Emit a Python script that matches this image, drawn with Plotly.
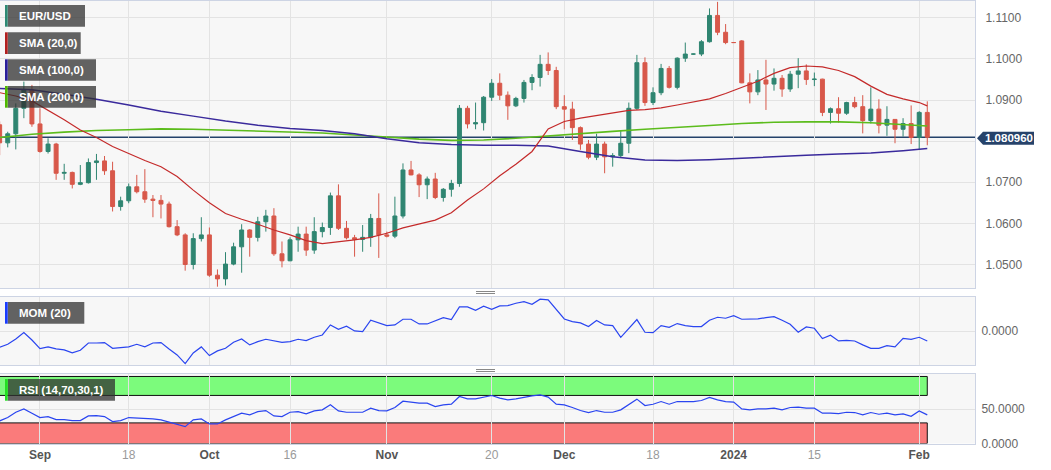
import pandas as pd
import plotly.graph_objects as go

W, H = 1051, 470

# trading days (weekdays), candles centred at noon so weekend breaks don't cut them
days = pd.bdate_range("2023-08-25", "2024-02-02") + pd.Timedelta(hours=12)

opens = [1.0840, 1.0796, 1.0818, 1.0880, 1.0925, 1.0842, 1.0775, 1.0793, 1.0722, 1.0724,
         1.0695, 1.0699, 1.0748, 1.0752, 1.0728, 1.0641, 1.0655, 1.0689, 1.0677, 1.0659,
         1.0656, 1.0647, 1.0592, 1.0572, 1.0500, 1.0563, 1.0572, 1.0474, 1.0465, 1.0501,
         1.0543, 1.0584, 1.0566, 1.0604, 1.0618, 1.0526, 1.0509, 1.0560, 1.0574, 1.0535,
         1.0580, 1.0590, 1.0667, 1.0588, 1.0565, 1.0561, 1.0566, 1.0612, 1.0572, 1.0569,
         1.0618, 1.0730, 1.0718, 1.0694, 1.0708, 1.0663, 1.0683, 1.0697, 1.0880, 1.0842,
         1.0845, 1.0907, 1.0941, 1.0912, 1.0886, 1.0904, 1.0943, 1.0955, 1.0987, 1.0972,
         1.0884, 1.0878, 1.0833, 1.0793, 1.0761, 1.0793, 1.0762, 1.0765, 1.0795, 1.0880,
         1.0991, 1.0894, 1.0918, 1.0977, 1.0931, 1.1002, 1.1012, 1.1012, 1.1042, 1.1106,
         1.1065, 1.1040, 1.1044, 1.0942, 1.0920, 1.0949, 1.0939, 1.0953, 1.0927, 1.0963,
         1.0971, 1.0950, 1.0951, 1.0870, 1.0879, 1.0868, 1.0894, 1.0884, 1.0850, 1.0878,
         1.0839, 1.0853, 1.0829, 1.0843, 1.0809, 1.0870]
highs = [1.0848, 1.0823, 1.0892, 1.0945, 1.0937, 1.0880, 1.0807, 1.0796, 1.0745, 1.0726,
         1.0742, 1.0758, 1.0769, 1.0764, 1.0750, 1.0665, 1.0697, 1.0718, 1.0732, 1.0669,
         1.0669, 1.0653, 1.0608, 1.0576, 1.0576, 1.0615, 1.0590, 1.0488, 1.0530, 1.0553,
         1.0598, 1.0586, 1.0616, 1.0633, 1.0637, 1.0556, 1.0566, 1.0592, 1.0592, 1.0615,
         1.0602, 1.0675, 1.0695, 1.0606, 1.0572, 1.0596, 1.0623, 1.0673, 1.0580, 1.0665,
         1.0746, 1.0752, 1.0722, 1.0714, 1.0723, 1.0686, 1.0706, 1.0888, 1.0886, 1.0894,
         1.0910, 1.0951, 1.0965, 1.0921, 1.0908, 1.0949, 1.0963, 1.1010, 1.1016, 1.0981,
         1.0912, 1.0896, 1.0836, 1.0803, 1.0818, 1.0799, 1.0771, 1.0826, 1.0894, 1.1010,
         1.1004, 1.0931, 1.0988, 1.0983, 1.1004, 1.1040, 1.1013, 1.1046, 1.1123, 1.1139,
         1.1085, 1.1041, 1.1046, 1.0965, 1.0973, 1.0998, 1.0977, 1.0961, 1.0971, 1.1002,
         1.0987, 1.0967, 1.0952, 1.0882, 1.0907, 1.0896, 1.0908, 1.0912, 1.0931, 1.0902,
         1.0885, 1.0854, 1.0856, 1.0887, 1.0873, 1.0897]
lows = [1.0766, 1.0785, 1.0780, 1.0856, 1.0835, 1.0772, 1.0770, 1.0706, 1.0706, 1.0685,
        1.0693, 1.0697, 1.0706, 1.0718, 1.0629, 1.0631, 1.0649, 1.0673, 1.0650, 1.0615,
        1.0612, 1.0590, 1.0569, 1.0485, 1.0488, 1.0556, 1.0470, 1.0446, 1.0449, 1.0498,
        1.0480, 1.0519, 1.0556, 1.0580, 1.0521, 1.0493, 1.0508, 1.0531, 1.0521, 1.0526,
        1.0566, 1.0572, 1.0584, 1.0561, 1.0519, 1.0531, 1.0543, 1.0516, 1.0566, 1.0564,
        1.0612, 1.0717, 1.0664, 1.0659, 1.0659, 1.0653, 1.0665, 1.0689, 1.0831, 1.0829,
        1.0826, 1.0898, 1.0900, 1.0852, 1.0883, 1.0894, 1.0924, 1.0933, 1.0961, 1.0878,
        1.0829, 1.0803, 1.0779, 1.0756, 1.0754, 1.0722, 1.0738, 1.0761, 1.0771, 1.0876,
        1.0886, 1.0888, 1.0912, 1.0928, 1.0926, 1.0993, 1.1011, 1.1007, 1.1040, 1.1058,
        1.1036, 1.1039, 1.0941, 1.0892, 1.0912, 1.0876, 1.0923, 1.0908, 1.0920, 1.0929,
        1.0937, 1.0934, 1.0861, 1.0843, 1.0845, 1.0864, 1.0880, 1.0819, 1.0843, 1.0819,
        1.0813, 1.0795, 1.0811, 1.0793, 1.0780, 1.0790]
closes = [1.0796, 1.0818, 1.0880, 1.0925, 1.0842, 1.0775, 1.0793, 1.0722, 1.0724, 1.0695,
          1.0699, 1.0748, 1.0752, 1.0728, 1.0641, 1.0655, 1.0689, 1.0677, 1.0659, 1.0656,
          1.0647, 1.0592, 1.0572, 1.0500, 1.0563, 1.0572, 1.0474, 1.0465, 1.0501, 1.0543,
          1.0584, 1.0566, 1.0604, 1.0618, 1.0526, 1.0509, 1.0560, 1.0574, 1.0535, 1.0580,
          1.0590, 1.0667, 1.0588, 1.0565, 1.0561, 1.0566, 1.0612, 1.0572, 1.0569, 1.0618,
          1.0730, 1.0718, 1.0694, 1.0708, 1.0663, 1.0683, 1.0697, 1.0880, 1.0842, 1.0845,
          1.0907, 1.0941, 1.0912, 1.0886, 1.0904, 1.0943, 1.0955, 1.0987, 1.0972, 1.0884,
          1.0878, 1.0833, 1.0793, 1.0761, 1.0793, 1.0762, 1.0765, 1.0795, 1.0880, 1.0991,
          1.0894, 1.0918, 1.0977, 1.0931, 1.1002, 1.1012, 1.1012, 1.1042, 1.1106, 1.1065,
          1.1040, 1.1040, 1.0942, 1.0920, 1.0949, 1.0939, 1.0953, 1.0927, 1.0963, 1.0971,
          1.0950, 1.0951, 1.0870, 1.0879, 1.0868, 1.0894, 1.0884, 1.0850, 1.0878, 1.0839,
          1.0853, 1.0829, 1.0843, 1.0809, 1.0870, 1.08096]

# moving averages at every 2nd / 4th session
sma20_at = [0, 2, 4, 6, 8, 10, 12, 14, 16, 18, 20, 22, 24, 26, 28, 30, 32, 34, 36, 38,
            40, 42, 44, 46, 48, 50, 52, 54, 56, 58, 60, 62, 64, 66, 68, 70, 72, 74, 76, 78,
            80, 82, 84, 86, 88, 90, 92, 94, 96, 98, 100, 102, 104, 106, 108, 110, 112, 114, 115]
sma20 = [1.0918, 1.0910, 1.0898, 1.0876, 1.0852, 1.0827, 1.0809, 1.0787, 1.0769, 1.0753,
         1.0738, 1.0714, 1.0681, 1.0650, 1.0624, 1.0610, 1.0598, 1.0584, 1.0572, 1.0558,
         1.0551, 1.0555, 1.0560, 1.0566, 1.0576, 1.0589, 1.0598, 1.0608, 1.0626, 1.0657,
         1.0684, 1.0716, 1.0744, 1.0775, 1.0830, 1.0848, 1.0856, 1.0862, 1.0869, 1.0875,
         1.0877, 1.0881, 1.0888, 1.0895, 1.0903, 1.0916, 1.0931, 1.0946, 1.0965, 1.0979,
         1.0983, 1.0981, 1.0972, 1.0957, 1.0934, 1.0914, 1.0903, 1.0894, 1.0886]
sma_long_at = [0, 4, 8, 12, 16, 20, 24, 28, 32, 36, 40, 44, 48, 52, 56, 60, 64, 68, 72, 76,
               80, 84, 88, 92, 96, 100, 104, 108, 112, 115]
sma100 = [1.0928, 1.0925, 1.0914, 1.0902, 1.0888, 1.0873, 1.0861, 1.0849, 1.0839, 1.0831,
          1.0826, 1.0818, 1.0806, 1.0796, 1.0792, 1.0790, 1.0790, 1.0788, 1.0775, 1.0762,
          1.0754, 1.0753, 1.0755, 1.0759, 1.0763, 1.0766, 1.0769, 1.0771, 1.0777, 1.0782]
sma200 = [1.0809, 1.0817, 1.0822, 1.0826, 1.0828, 1.0830, 1.0829, 1.0827, 1.0825, 1.0822,
          1.0820, 1.0815, 1.0810, 1.0805, 1.0802, 1.0803, 1.0807, 1.0813, 1.0819, 1.0824,
          1.0829, 1.0833, 1.0838, 1.0843, 1.0846, 1.0847, 1.0847, 1.0845, 1.0841, 1.0837]

mom20 = [-0.0208, -0.0169, -0.0100, -0.0017, -0.0113, -0.0225, -0.0203, -0.0229, -0.0242, -0.0281,
         -0.0247, -0.0152, -0.0152, -0.0147, -0.0221, -0.0208, -0.0203, -0.0169, -0.0203, -0.0152,
         -0.0147, -0.0229, -0.0307, -0.0420, -0.0281, -0.0203, -0.0316, -0.0255, -0.0221, -0.0143,
         -0.0100, -0.0177, -0.0134, -0.0104, -0.0121, -0.0143, -0.0134, -0.0104, -0.0121, -0.0078,
         -0.0048, 0.0082, 0.0026, 0.0065, 0.0004, -0.0004, 0.0143, 0.0113, 0.0074, 0.0082,
         0.0156, 0.0156, 0.0095, 0.0095, 0.0134, 0.0177, 0.0152, 0.0316, 0.0316, 0.0273,
         0.0325, 0.0286, 0.0329, 0.0333, 0.0364, 0.0385, 0.0351, 0.0416, 0.0407, 0.0277,
         0.0160, 0.0126, 0.0108, 0.0061, 0.0139, 0.0082, 0.0074, -0.0078, 0.0039, 0.0152,
         -0.0013, -0.0017, 0.0074, 0.0052, 0.0100, 0.0074, 0.0061, 0.0061, 0.0143, 0.0182,
         0.0169, 0.0203, 0.0156, 0.0160, 0.0160, 0.0177, 0.0190, 0.0143, 0.0091, -0.0013,
         0.0056, 0.0039, -0.0095, -0.0052, -0.0126, -0.0117, -0.0126, -0.0177, -0.0221, -0.0221,
         -0.0186, -0.0203, -0.0091, -0.0104, -0.0078, -0.0126]

rsi14 = [32.9, 37.8, 45.5, 50.4, 44.1, 37.8, 39.2, 34.8, 34.8, 33.4,
         33.4, 40.2, 40.7, 39.2, 31.9, 33.4, 37.8, 37.3, 36.3, 35.8,
         34.4, 30.9, 28.0, 24.6, 34.4, 35.8, 28.5, 28.5, 34.4, 39.2,
         44.1, 41.7, 46.5, 48.0, 40.2, 39.2, 45.5, 46.5, 43.1, 47.5,
         49.0, 56.3, 47.5, 45.5, 45.5, 45.5, 51.4, 48.0, 47.5, 52.4,
         61.6, 60.2, 58.7, 58.7, 53.8, 56.3, 57.2, 68.5, 65.0, 65.0,
         68.0, 69.9, 66.0, 63.6, 65.0, 67.5, 69.4, 70.9, 67.5, 57.2,
         56.3, 52.4, 48.0, 45.1, 48.0, 45.5, 45.5, 49.0, 57.2, 64.6,
         55.3, 57.2, 61.1, 57.2, 61.1, 61.1, 61.1, 62.6, 67.0, 63.6,
         61.1, 60.2, 50.4, 49.0, 50.4, 50.4, 51.4, 49.0, 52.4, 52.9,
         51.4, 51.4, 44.1, 44.1, 43.6, 45.5, 45.1, 41.7, 45.1, 42.6,
         44.1, 41.7, 43.1, 39.7, 47.5, 41.7]

last_price = 1.080960

tick_days = ["2023-09-01", "2023-09-18", "2023-10-02", "2023-10-16", "2023-11-01", "2023-11-20",
             "2023-12-01", "2023-12-18", "2024-01-01", "2024-01-15", "2024-02-01"]
tick_labels = ["Sep", "18", "Oct", "16", "Nov", "20", "Dec", "18", "2024", "15", "Feb"]
price_ticks = [1.05, 1.06, 1.07, 1.08, 1.09, 1.10, 1.11]


def fx(px):
    return px / W


def fy(py):
    return 1 - py / H


FONT = "Liberation Sans, Arial, sans-serif"
tick_x = [pd.Timestamp(d) + pd.Timedelta(hours=12) for d in tick_days]
tick_text = ["<b>%s</b>" % t if not t.isdigit() or len(t) == 4 else
             "<span style='color:#9a9a9a'>%s</span>" % t for t in tick_labels]

fig = go.Figure()

fig.add_trace(go.Candlestick(
    x=days, open=opens, high=highs, low=lows, close=closes,
    increasing=dict(line=dict(color="#2f8571", width=1), fillcolor="#2f8571"),
    decreasing=dict(line=dict(color="#d8584a", width=1), fillcolor="#d8584a"),
    showlegend=False, xaxis="x", yaxis="y"))

fig.add_trace(go.Scatter(x=[days[i] for i in sma_long_at], y=sma200, mode="lines",
                         line=dict(color="#5cbc1c", width=1.6), showlegend=False,
                         xaxis="x", yaxis="y"))
fig.add_trace(go.Scatter(x=[days[i] for i in sma_long_at], y=sma100, mode="lines",
                         line=dict(color="#3a2a9c", width=1.5), showlegend=False,
                         xaxis="x", yaxis="y"))
fig.add_trace(go.Scatter(x=[days[i] for i in sma20_at], y=sma20, mode="lines",
                         line=dict(color="#c42a2a", width=1.2), showlegend=False,
                         xaxis="x", yaxis="y"))

fig.add_trace(go.Scatter(x=days, y=mom20, mode="lines", line=dict(color="#2a45f0", width=1.2),
                         showlegend=False, xaxis="x2", yaxis="y2"))
fig.add_trace(go.Scatter(x=days, y=rsi14, mode="lines", line=dict(color="#2a45f0", width=1.2),
                         showlegend=False, xaxis="x3", yaxis="y3"))

x_common = dict(
    type="date",
    range=["2023-08-25 13:00", "2024-02-12 10:00"],
    rangebreaks=[dict(bounds=["sat", "mon"])],
    tickmode="array", tickvals=tick_x, ticktext=tick_text,
    showgrid=True, gridcolor="#e3e3e3", gridwidth=1,
    showline=True, linecolor="#cdd4e4", linewidth=1, mirror=True,
    zeroline=False, ticks="", domain=[0, fx(975)],
    tickfont=dict(family=FONT, size=12, color="#555"),
    automargin=False,
)
y_common = dict(
    side="right", showgrid=True, gridcolor="#e3e3e3", gridwidth=1,
    showline=True, linecolor="#cdd4e4", linewidth=1, mirror=True,
    zeroline=False, ticks="", tickfont=dict(family=FONT, size=12, color="#666"),
    automargin=False, fixedrange=True,
)

fig.update_layout(
    width=W, height=H,
    margin=dict(l=0, r=0, t=0, b=0),
    paper_bgcolor="white", plot_bgcolor="#f7f7f7",
    template="none",
    showlegend=False,
    xaxis=dict(x_common, anchor="y", showticklabels=False, rangeslider=dict(visible=False)),
    xaxis2=dict(x_common, anchor="y2", matches="x", showticklabels=False),
    xaxis3=dict(x_common, anchor="y3", matches="x", showticklabels=True),
    yaxis=dict(y_common, anchor="x", domain=[fy(288), fy(1)], range=[1.04428, 1.11411],
               tickvals=price_ticks,
               ticktext=["1.0500", "1.0600", "1.0700", "", "1.0900", "1.1000", "1.1100"],
               ticklabelstandoff=7),
    yaxis2=dict(y_common, anchor="x2", domain=[fy(365), fy(297)], range=[-0.0438, 0.0445],
                tickvals=[0], ticktext=["0.0000"], ticklabelstandoff=3),
    yaxis3=dict(y_common, anchor="x3", domain=[fy(443.5), fy(374)], range=[0, 101.2],
                tickvals=[0, 50], ticktext=["0.0000", "50.0000"], ticklabelstandoff=3),
)

shapes = []
# RSI overbought / oversold zones
shapes.append(dict(type="rect", xref="x3", yref="y3", x0="2023-08-20", x1=days[-1],
                   y0=70, y1=97.6, fillcolor="#7cfb7c", line=dict(color="#111", width=1),
                   layer="below"))
shapes.append(dict(type="rect", xref="x3", yref="y3", x0="2023-08-20", x1=days[-1],
                   y0=0, y1=30, fillcolor="#fa7b7b", line=dict(color="#111", width=1),
                   layer="below"))
# last price line
shapes.append(dict(type="line", xref="paper", yref="y", x0=0, x1=fx(975),
                   y0=last_price, y1=last_price, line=dict(color="#24426a", width=1.3),
                   layer="between"))
# last price tag with pointer
yl = 138.3
shapes.append(dict(type="path", xref="paper", yref="paper",
                   path="M %f,%f L %f,%f L %f,%f L %f,%f L %f,%f Z" % (
                       fx(977), fy(yl), fx(983), fy(yl - 6.5), fx(1034), fy(yl - 6.5),
                       fx(1034), fy(yl + 6.5), fx(983), fy(yl + 6.5)),
                   fillcolor="#26426a", line=dict(width=0), layer="above"))

# panel resize handles
for y in (291.5, 293.5, 369.5, 371.5):
    shapes.append(dict(type="line", xref="paper", yref="paper", x0=fx(476), x1=fx(495),
                       y0=fy(y), y1=fy(y), line=dict(color="#888", width=1)))

# indicator name boxes
boxes = [
    ("EUR/USD", 5, 85, 5, 26.7, "#2e8a74"),
    ("SMA (20,0)", 5, 80.7, 32.3, 54, "#b21f1f"),
    ("SMA (100,0)", 5, 96, 59.3, 80.7, "#2b1f9b"),
    ("SMA (200,0)", 5, 96, 86, 107.7, "#4fb800"),
    ("MOM (20)", 5, 84.3, 302, 323.7, "#1a3cff"),
    ("RSI (14,70,30,1)", 5, 115, 379, 400.7, "#22e022"),
]
annotations = []
for label, x0, x1, y0, y1, col in boxes:
    shapes.append(dict(type="rect", xref="paper", yref="paper", x0=fx(x0 + 2.7), x1=fx(x1),
                       y0=fy(y1), y1=fy(y0), fillcolor="rgba(48,48,48,0.75)",
                       line=dict(width=0), layer="above"))
    shapes.append(dict(type="rect", xref="paper", yref="paper", x0=fx(x0), x1=fx(x0 + 2.7),
                       y0=fy(y1), y1=fy(y0), fillcolor=col, line=dict(width=0), layer="above"))
    annotations.append(dict(xref="paper", yref="paper", x=fx(16.5), y=fy((y0 + y1) / 2),
                            xanchor="left", yanchor="middle", showarrow=False,
                            text="<b>%s</b>" % label,
                            font=dict(family=FONT, size=11.5, color="white")))

annotations.append(dict(xref="paper", yref="paper", x=fx(1008.5), y=fy(yl),
                        xanchor="center", yanchor="middle", showarrow=False,
                        text="<b>%.6f</b>" % last_price,
                        font=dict(family=FONT, size=11.5, color="white")))

fig.update_layout(shapes=shapes, annotations=annotations)

fig.write_html("out.html", config={"displayModeBar": False},
               post_script="document.body.style.margin='0';document.body.style.overflow='hidden';")
